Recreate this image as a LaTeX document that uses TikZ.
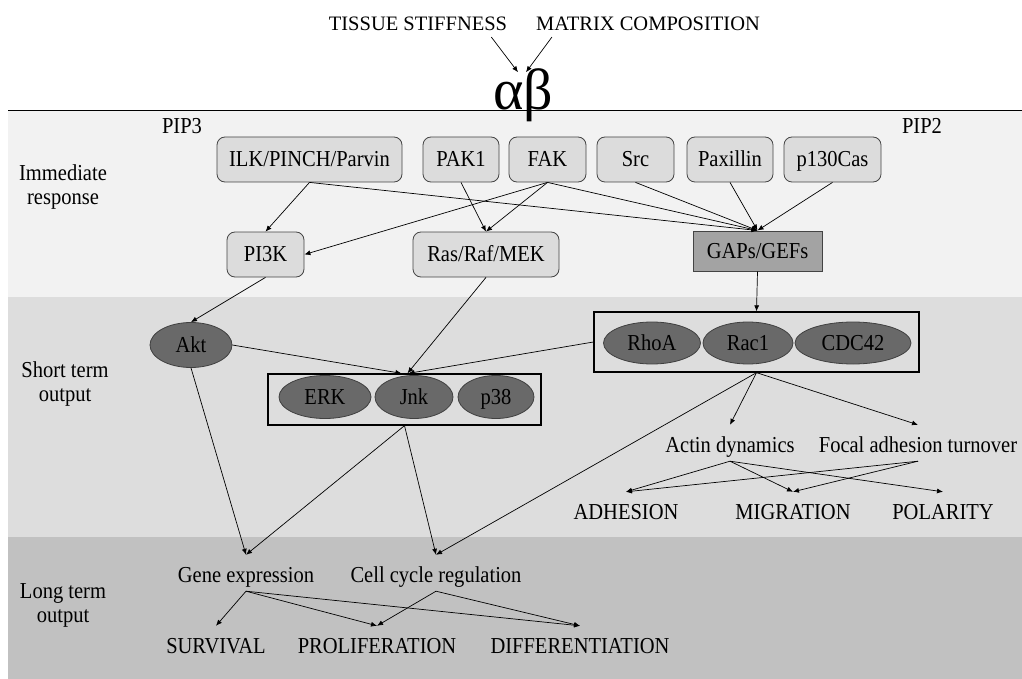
\documentclass[tikz,border=0pt]{standalone}
\usepackage{fontspec}
\setmainfont{Liberation Serif}
\newfontfamily\condfont[FakeStretch=0.9]{Liberation Serif}
\usetikzlibrary{arrows.meta,shapes.geometric}
\definecolor{bandA}{HTML}{F2F2F2}
\definecolor{bandB}{HTML}{DDDDDD}
\definecolor{bandC}{HTML}{C1C1C1}
\definecolor{boxfill}{HTML}{DCDCDC}
\definecolor{boxline}{HTML}{444444}
\definecolor{ellfill}{HTML}{696969}
\definecolor{gapfill}{HTML}{A3A3A3}
\begin{document}
\begin{tikzpicture}[x=1pt,y=-1pt,
  font=\condfont\fontsize{22.8}{24}\selectfont,
  toplbl/.style={inner sep=0pt, font=\fontsize{20.5}{23}\selectfont},
  rbox/.style={draw=boxline, fill=boxfill, rounded corners=8pt, minimum height=45pt, inner sep=0pt, line width=0.8pt, text height=16pt, text depth=2pt},
  ell/.style={ellipse, draw=black!75, fill=ellfill, inner sep=0pt, line width=0.8pt, text height=16pt, text depth=1pt},
  grp/.style={draw=black, line width=1.3pt, inner sep=0pt},
  txt/.style={inner xsep=1pt, inner ysep=4pt, text height=23pt, text depth=5pt},
  arr/.style={-{Latex[length=6pt,width=5pt]}, line width=0.7pt},
  sect/.style={align=center}
]
\useasboundingbox (0,0) rectangle (1022,679);
\fill[white] (0,0) rectangle (1022,679);
\fill[bandA] (8,111) rectangle (1022,297);
\fill[bandB] (8,297) rectangle (1022,537);
\fill[bandC] (8,537) rectangle (1022,679);
\draw[line width=1pt] (8,111) -- (1022,111);

% top
\node[toplbl] (tissue) at (418,24) {TISSUE STIFFNESS};
\node[toplbl] (matrix) at (648,24) {MATRIX COMPOSITION};
\node[inner sep=0pt, font=\fontsize{58}{60}\selectfont] (ab) at (523,95) {αβ};

% section labels
\node[sect] (s1) at (63,187) {Immediate\\response};
\node[sect] (s2) at (65,384) {Short term\\output};
\node[sect] (s3) at (63,605) {Long term\\output};
\node (pip3) at (182,126) {PIP3};
\node (pip2) at (922,126) {PIP2};

% immediate response
\node[rbox, minimum width=185pt] (ilk) at (309.5,159.5) {ILK/PINCH/Parvin};
\node[rbox, minimum width=76pt] (pak) at (461,159.5) {PAK1};
\node[rbox, minimum width=77pt] (fak) at (547.5,159.5) {FAK};
\node[rbox, minimum width=77pt] (src) at (635.5,159.5) {Src};
\node[rbox, minimum width=86pt] (pax) at (730,159.5) {Paxillin};
\node[rbox, minimum width=97pt] (cas) at (832.5,159.5) {p130Cas};
\node[rbox, minimum width=77pt] (pi3k) at (265.5,254.5) {PI3K};
\node[rbox, minimum width=146pt] (ras) at (486,254.5) {Ras/Raf/MEK};
\node[draw=boxline, fill=gapfill, line width=1pt, minimum width=129pt, minimum height=40pt, inner sep=0pt, text height=16pt, text depth=2pt] (gaps) at (757.5,251) {GAPs/GEFs};

% short term
\node[ell, minimum width=82pt, minimum height=45pt] (akt) at (191,345) {Akt};
\node[grp, minimum width=273pt, minimum height=51pt] (erkbox) at (404.5,399.5) {};
\node[ell, minimum width=92pt, minimum height=43pt] (erk) at (325,397) {ERK};
\node[ell, minimum width=78pt, minimum height=43pt] (jnk) at (414,397) {Jnk};
\node[ell, minimum width=76pt, minimum height=43pt] (p38) at (496,397) {p38};
\node[grp, minimum width=325pt, minimum height=60pt] (rhobox) at (756.5,342) {};
\node[ell, minimum width=97pt, minimum height=42pt] (rhoa) at (652,343) {RhoA};
\node[ell, minimum width=90pt, minimum height=42pt] (rac) at (748,343) {Rac1};
\node[ell, minimum width=116pt, minimum height=42pt] (cdc) at (853,343) {CDC42};

\node[txt] (actin) at (730,443) {Actin dynamics};
\node[txt] (focal) at (918,443) {Focal adhesion turnover};
\node[txt] (adh) at (626,510) {ADHESION};
\node[txt] (mig) at (793,510) {MIGRATION};
\node[txt] (pol) at (943,510) {POLARITY};

% long term
\node[txt] (gene) at (246,573) {Gene expression};
\node[txt] (cell) at (436,573) {Cell cycle regulation};
\node[txt] (surv) at (216,644) {SURVIVAL};
\node[txt] (prol) at (377,644) {PROLIFERATION};
\node[txt] (diff) at (580,644) {DIFFERENTIATION};

% connectors
\draw[arr] ([xshift=-16pt,yshift=-6pt]tissue.south east) -- ([xshift=-5pt,yshift=-4pt]ab.north);
\draw[arr] ([xshift=16pt,yshift=-6pt]matrix.south west) -- ([xshift=3pt,yshift=-4pt]ab.north);

\draw[arr] (ilk.south) -- (pi3k.north);
\draw[arr] (ilk.south) -- (gaps.north);
\draw[arr] (pak.south) -- (ras.north);
\draw[arr] (fak.south) -- (ras.north);
\draw[arr] (fak.south) -- (pi3k.east);
\draw[arr] (fak.south) -- (gaps.north);
\draw[arr] (src.south) -- (gaps.north);
\draw[arr] (pax.south) -- (gaps.north);
\draw[arr] (cas.south) -- (gaps.north);
\draw[arr] (gaps.south) -- (rhobox.north);

\draw[arr] (pi3k.south) -- (akt.north);
\draw[arr] (ras.south) -- ([xshift=3pt]erkbox.north);
\draw[arr] (akt.east) -- ([xshift=-3pt]erkbox.north);
\draw[arr] (rhobox.west) -- ([xshift=4pt]erkbox.north);

\draw[arr] (akt.south) -- (gene.north);
\draw[arr] (erkbox.south) -- (gene.north);
\draw[arr] (erkbox.south) -- (cell.north);
\draw[arr] (rhobox.south) -- (cell.north);
\draw[arr] (rhobox.south) -- (actin.north);
\draw[arr] (rhobox.south) -- (focal.north);

\draw[arr] (actin.south) -- (adh.north);
\draw[arr] (actin.south) -- (mig.north);
\draw[arr] (actin.south) -- (pol.north);
\draw[arr] (focal.south) -- (adh.north);
\draw[arr] (focal.south) -- (mig.north);

\draw[arr] (gene.south) -- (surv.north);
\draw[arr] (gene.south) -- (prol.north);
\draw[arr] (gene.south) -- (diff.north);
\draw[arr] (cell.south) -- (prol.north);
\draw[arr] (cell.south) -- (diff.north);
\end{tikzpicture}
\end{document}
